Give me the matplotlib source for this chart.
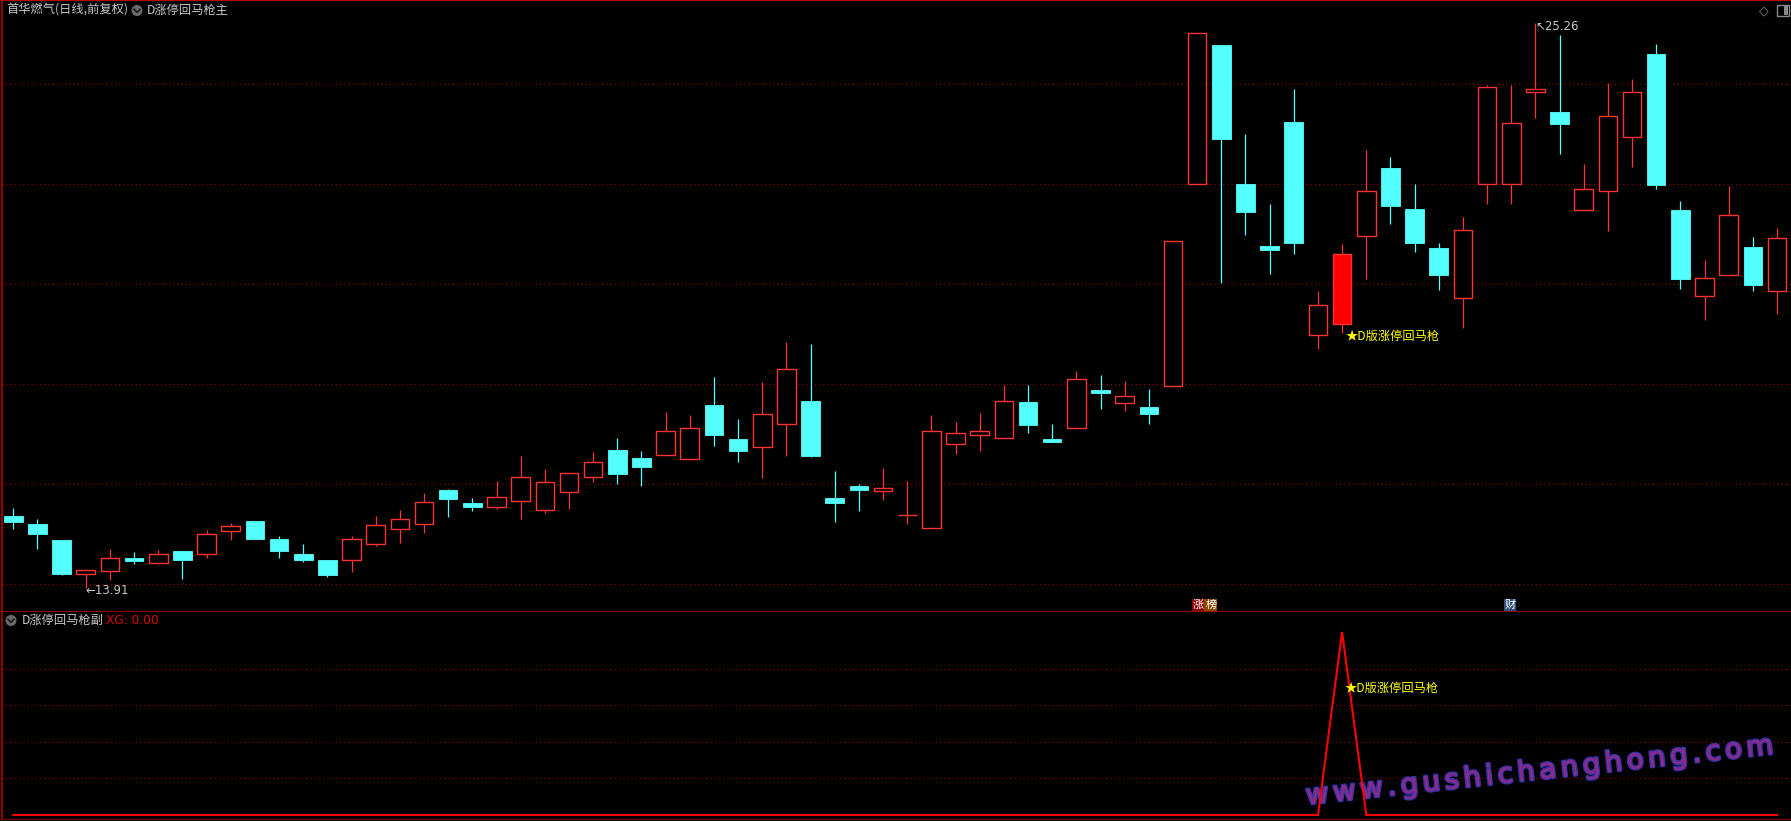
import numpy as np
import matplotlib
matplotlib.use('Agg')
import matplotlib.pyplot as plt
from matplotlib.patches import Rectangle, Circle
from matplotlib.lines import Line2D
import matplotlib.patheffects as pe

plt.rcParams['font.family'] = ['Noto Sans CJK SC', 'DejaVu Sans']

# 日K 数据 (首华燃气, 前复权)
opens = [15.36, 15.20, 14.88, 14.20, 14.26, 14.52, 14.42, 14.66, 14.59, 15.07,
         15.26, 14.90, 14.60, 14.48, 14.48, 14.79, 15.11, 15.20, 15.88, 15.62,
         15.55, 15.67, 15.49, 15.85, 16.14, 16.69, 16.53, 16.59, 16.51, 17.59,
         16.91, 16.74, 17.22, 17.67, 15.72, 15.97, 15.87, 15.38, 15.12, 16.80,
         16.98, 16.92, 17.65, 16.91, 17.14, 17.89, 17.64, 17.55, 17.98, 22.03,
         24.82, 22.03, 20.79, 23.28, 19.00, 19.21, 20.99, 22.35, 21.53, 20.75,
         19.74, 22.03, 22.03, 23.87, 23.47, 21.50, 21.89, 22.97, 24.64, 21.51,
         19.79, 20.21, 20.77, 19.89]
closes = [15.24, 15.01, 14.20, 14.28, 14.51, 14.46, 14.60, 14.48, 15.00, 15.16,
          14.90, 14.65, 14.48, 14.18, 14.91, 15.18, 15.30, 15.64, 15.71, 15.55,
          15.74, 16.14, 16.04, 16.22, 16.44, 16.21, 16.35, 17.06, 17.14, 16.99,
          16.67, 17.41, 18.31, 16.57, 15.63, 15.89, 15.92, 15.38, 17.08, 17.02,
          17.08, 17.67, 17.20, 16.85, 18.11, 17.83, 17.77, 17.41, 20.89, 25.07,
          22.94, 21.47, 20.71, 20.85, 19.60, 20.62, 21.90, 21.58, 20.85, 20.21,
          21.10, 23.99, 23.25, 23.95, 23.24, 21.93, 23.39, 23.87, 22.01, 20.12,
          20.14, 21.40, 20.00, 20.95]
highs = [15.52, 15.30, 14.88, 14.28, 14.70, 14.64, 14.68, 14.66, 15.08, 15.22,
         15.26, 14.96, 14.80, 14.48, 14.97, 15.36, 15.48, 15.82, 15.90, 15.72,
         16.07, 16.57, 16.31, 16.22, 16.65, 16.93, 16.67, 17.45, 17.39, 18.16,
         17.31, 18.05, 18.86, 18.82, 16.27, 16.01, 16.33, 16.07, 17.39, 17.25,
         17.43, 18.00, 17.99, 17.21, 18.28, 18.20, 18.08, 17.91, 20.89, 25.07,
         24.82, 23.04, 21.63, 23.94, 19.88, 20.83, 22.71, 22.57, 22.03, 20.85,
         21.37, 24.02, 24.02, 25.26, 25.02, 22.43, 24.06, 24.14, 24.84, 21.69,
         20.50, 21.99, 20.97, 21.15]
lows = [15.11, 14.69, 14.18, 13.91, 14.08, 14.40, 14.40, 14.10, 14.52, 14.88,
        14.90, 14.52, 14.44, 14.14, 14.24, 14.75, 14.83, 15.03, 15.35, 15.47,
        15.50, 15.31, 15.43, 15.51, 16.05, 16.01, 15.97, 16.59, 16.51, 16.77,
        16.45, 16.13, 16.57, 16.55, 15.25, 15.47, 15.69, 15.21, 15.12, 16.61,
        16.67, 16.92, 17.02, 16.84, 17.14, 17.51, 17.47, 17.21, 17.98, 22.03,
        20.05, 21.01, 20.23, 20.63, 18.72, 19.04, 20.13, 21.23, 20.67, 19.91,
        19.13, 21.64, 21.64, 23.36, 22.64, 21.50, 21.09, 22.37, 21.94, 19.93,
        19.30, 20.21, 19.88, 19.42]

# 副图 XG 信号
xg = [0, 0, 0, 0, 0, 0, 0, 0, 0, 0,
      0, 0, 0, 0, 0, 0, 0, 0, 0, 0,
      0, 0, 0, 0, 0, 0, 0, 0, 0, 0,
      0, 0, 0, 0, 0, 0, 0, 0, 0, 0,
      0, 0, 0, 0, 0, 0, 0, 0, 0, 0,
      0, 0, 0, 0, 0, 1, 0, 0, 0, 0,
      0, 0, 0, 0, 0, 0, 0, 0, 0, 0,
      0, 0, 0, 0]

signal_day = 55
low_day, low_price = 3, 13.91
high_day, high_price = 63, 25.26
main_grid = [14.00, 16.01, 18.01, 20.02, 22.03, 24.04]
sub_grid = [0.2, 0.4, 0.6, 0.8]
title_main = '首华燃气(日线,前复权)'
ind_main = 'D涨停回马枪主'
ind_sub = 'D涨停回马枪副'
signal_text = '★D版涨停回马枪'
watermark = 'www.gushichanghong.com'

UP = '#FF3232'
DOWN = '#54FFFF'
BORDER = '#B40000'
GRID = '#A00000'
TXT = '#C8C8C8'

W, H = 1791, 821
fig = plt.figure(figsize=(W / 100, H / 100), dpi=100, facecolor='black')


def fx(px):
    return px / W


def fy(py):
    return 1 - py / H


ax1 = fig.add_axes([fx(2), fy(612), fx(W - 2), 612 / H], facecolor='black')
ax2 = fig.add_axes([fx(2), fy(819), fx(W - 2), 207 / H], facecolor='black')

n = len(opens)
x = np.arange(n)
xlim = (-0.468, 73.58)

# ---- 主图: K线 ----
bw = 0.77
for i in range(n):
    o, c, h, l = opens[i], closes[i], highs[i], lows[i]
    top, bot = max(o, c), min(o, c)
    if c >= o:
        ax1.vlines(i, top, h, color=UP, lw=0.9, zorder=2)
        ax1.vlines(i, l, bot, color=UP, lw=0.9, zorder=2)
        if i == signal_day:
            ax1.add_patch(Rectangle((i - bw / 2, bot), bw, top - bot, facecolor='#FF0000',
                                    edgecolor=UP, lw=1.0, zorder=3))
        elif c == o:
            ax1.hlines(o, i - bw / 2, i + bw / 2, color=UP, lw=1.0, zorder=3)
        else:
            ax1.add_patch(Rectangle((i - bw / 2, bot), bw, top - bot, facecolor='black',
                                    edgecolor=UP, lw=1.0, zorder=3))
    else:
        ax1.vlines(i, l, h, color=DOWN, lw=0.9, zorder=2)
        ax1.add_patch(Rectangle((i - bw / 2, bot), bw, top - bot, facecolor=DOWN,
                                edgecolor=DOWN, lw=0.6, zorder=3))

for g in main_grid:
    ax1.axhline(g, color=GRID, lw=0.75, linestyle=(0, (1, 3)), zorder=1)

ax1.set_xlim(*xlim)
ax1.set_ylim(13.434, 25.728)

# 最高/最低价标注
ax1.annotate('←13.91', xy=(low_day, low_price), xytext=(0, -1.8), textcoords='offset points',
             color=TXT, fontsize=8.5, family='DejaVu Sans', ha='left', va='center', zorder=5)
ax1.annotate('↖' + f'{high_price:.2f}', xy=(high_day, high_price), xytext=(0, -2),
             textcoords='offset points', color=TXT, fontsize=8.5, family='DejaVu Sans',
             ha='left', va='center', zorder=5)

# 信号文字
ax1.annotate(signal_text, xy=(signal_day, lows[signal_day]), xytext=(2.2, -2.4),
             textcoords='offset points', color='#FFFF00', fontsize=8.8,
             ha='left', va='center', zorder=5)

# 事件标记
ax1.text(49.05, 13.58, '涨', color='white', fontsize=8, ha='center', va='center',
         bbox=dict(boxstyle='square,pad=0.08', facecolor='#8C0000', edgecolor='none'), zorder=5)
ax1.text(49.57, 13.58, '榜', color='white', fontsize=8, ha='center', va='center',
         bbox=dict(boxstyle='square,pad=0.08', facecolor='#8C4A00', edgecolor='none'), zorder=5)
ax1.text(61.95, 13.58, '财', color='white', fontsize=8, ha='center', va='center',
         bbox=dict(boxstyle='square,pad=0.08', facecolor='#34507C', edgecolor='none'), zorder=5)

# ---- 副图: XG ----
ax2.plot(x, xg, color='#FF0000', lw=1.5, zorder=4, solid_joinstyle='miter')
for g in sub_grid:
    ax2.axhline(g, color=GRID, lw=0.75, linestyle=(0, (1, 3)), zorder=1)
ax2.set_xlim(*xlim)
ax2.set_ylim(-0.0219, 1.1093)
ax2.annotate(signal_text, xy=(signal_day, 0.69), xytext=(1.8, 0), textcoords='offset points',
             color='#FFFF00', fontsize=8.8, ha='left', va='center', zorder=5)

# 水印: 逐字排布, 字距放宽
wm_size = 20
renderer = fig.canvas.get_renderer()
widths = []
for ch in watermark:
    t = fig.text(0, 0, ch, fontsize=wm_size, family='DejaVu Sans')
    widths.append(t.get_window_extent(renderer).width)
    t.remove()
ang = np.deg2rad(6.2)
span = 470.0
track = (span - sum(widths)) / (len(watermark) - 1)
x0, y0 = 1540.5 - span / 2 * np.cos(ang), 779 + span / 2 * np.sin(ang)
pos = 0.0
for ch, wd in zip(watermark, widths):
    s = pos + wd / 2
    ax2.text(fx(x0 + s * np.cos(ang)), fy(y0 - s * np.sin(ang)), ch, transform=fig.transFigure,
             color='#8A2A8A', fontsize=wm_size, family='DejaVu Sans',
             rotation=6.2, rotation_mode='anchor', ha='center', va='baseline', zorder=2,
             path_effects=[pe.withStroke(linewidth=2.2, foreground='#3434A8'),
                           pe.Normal()])
    pos += wd + track

for ax in (ax1, ax2):
    ax.set_xticks([])
    ax.set_yticks([])
    for s in ax.spines.values():
        s.set_visible(False)
    ax.spines['left'].set_visible(True)
    ax.spines['left'].set_color(BORDER)
    ax.spines['left'].set_linewidth(1.2)
ax1.spines['top'].set_visible(True)
ax1.spines['top'].set_color(BORDER)
ax1.spines['top'].set_linewidth(1.5)
ax1.spines['bottom'].set_visible(True)
ax1.spines['bottom'].set_color(BORDER)
ax1.spines['bottom'].set_linewidth(1.2)
ax2.spines['bottom'].set_visible(True)
ax2.spines['bottom'].set_color('#7A0000')
ax2.spines['bottom'].set_linewidth(1.0)

# ---- 标题栏 ----
fig.text(fx(6), fy(10.5), title_main, color=TXT, fontsize=8.8, ha='left', va='center')
fig.text(fx(147), fy(10.5), ind_main, color=TXT, fontsize=8.8, ha='left', va='center')
fig.text(fx(21.5), fy(620.5), ind_sub, color=TXT, fontsize=8.8, ha='left', va='center')
fig.text(fx(106.5), fy(620.5), 'XG: 0.00', color='#E00000', fontsize=8.8,
         family='DejaVu Sans', ha='left', va='center')

for cx, cy in [(137, 10.5), (11, 620.5)]:
    fig.add_artist(Circle((cx / 100, (H - cy) / 100), 0.055, transform=fig.dpi_scale_trans,
                          facecolor='#6A6A6A', edgecolor='none'))
    fig.add_artist(Line2D([(cx - 3) / 100, cx / 100, (cx + 3) / 100],
                          [(H - cy + 1.2) / 100, (H - cy - 1.8) / 100, (H - cy + 1.2) / 100],
                          transform=fig.dpi_scale_trans, color='#1A1A1A', lw=1.2))

# 右上角图标
fig.text(fx(1764), fy(10.5), '◇', color='#8A8A8A', fontsize=9, family='DejaVu Sans',
         ha='center', va='center')
fig.add_artist(Rectangle((1777 / 100, (H - 16) / 100), 0.12, 0.11, transform=fig.dpi_scale_trans,
                         facecolor='none', edgecolor='#8A8A8A', lw=1.0))
fig.add_artist(Rectangle((1784 / 100, (H - 14.5) / 100), 0.035, 0.08, transform=fig.dpi_scale_trans,
                         facecolor='#8A8A8A', edgecolor='none'))

fig.savefig('out.png', dpi=100, facecolor='black')
